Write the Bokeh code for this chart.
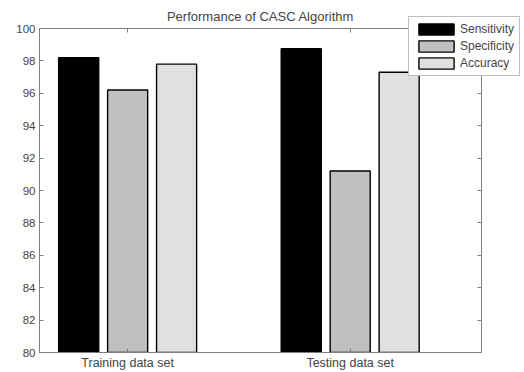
from bokeh.plotting import figure
from bokeh.models import (ColumnDataSource, LinearAxis, FixedTicker, Legend, LegendItem, Range1d)
from bokeh.embed import file_html
from bokeh.resources import INLINE

categories = ["Training data set", "Testing data set"]
series_names = ["Sensitivity", "Specificity", "Accuracy"]
sensitivity = [98.2, 98.75]
specificity = [96.2, 91.2]
accuracy = [97.8, 97.3]
series_colors = ["#000000", "#c0c0c0", "#e0e0e0"]
y_ticks = [80, 82, 84, 86, 88, 90, 92, 94, 96, 98, 100]

xpos = [1, 2]
offsets = [-0.22, 0.0, 0.22]
bar_w = 0.18

FONT = "Liberation Sans"
AX = "#808080"
TXT = "#444444"

p = figure(frame_width=442, frame_height=324, output_backend="svg",
           toolbar_location=None, x_range=Range1d(0.604, 2.59),
           y_range=Range1d(80, 100), x_axis_location=None, y_axis_location=None,
           min_border_left=39, min_border_right=35, min_border_top=28,
           min_border_bottom=12)
p.grid.visible = False
p.outline_line_color = AX
p.background_fill_color = "white"
p.border_fill_color = "white"

p.title.text = "Performance of CASC Algorithm"
p.title.align = "center"
p.title.text_font = FONT
p.title.text_font_size = "13px"
p.title.text_font_style = "normal"
p.title.text_color = TXT
p.title.standoff = 10

values = [sensitivity, specificity, accuracy]
renderers = []
for name, vals, col, off in zip(series_names, values, series_colors, offsets):
    src = ColumnDataSource(dict(x=[x + off for x in xpos], top=vals))
    r = p.vbar(x="x", top="top", bottom=80, width=bar_w, source=src,
               fill_color=col, line_color="black", line_width=1.4)
    renderers.append((name, r))

def style_axis(ax, labels=True):
    ax.axis_line_color = AX
    ax.major_tick_line_color = AX
    ax.major_tick_in = 4
    ax.major_tick_out = 0
    ax.minor_tick_line_color = None
    ax.major_label_text_font = FONT
    ax.major_label_text_font_size = "11.5px"
    ax.major_label_text_color = TXT
    ax.major_label_standoff = 4
    if not labels:
        ax.major_label_text_font_size = "0px"
        ax.major_label_text_color = None
        ax.major_label_standoff = 0

yl = LinearAxis(ticker=FixedTicker(ticks=y_ticks))
style_axis(yl)
p.add_layout(yl, "left")
yr = LinearAxis(ticker=FixedTicker(ticks=y_ticks))
style_axis(yr, labels=False)
p.add_layout(yr, "right")

xb = LinearAxis(ticker=FixedTicker(ticks=xpos),
                major_label_overrides={x: c for x, c in zip(xpos, categories)})
style_axis(xb)
xb.major_label_text_font_size = "12.5px"
xb.major_label_standoff = 3
p.add_layout(xb, "below")
xt = LinearAxis(ticker=FixedTicker(ticks=xpos))
style_axis(xt, labels=False)
p.add_layout(xt, "above")

legend = Legend(items=[LegendItem(label=n, renderers=[r]) for n, r in renderers],
                location=(-250, 276), glyph_width=44, glyph_height=14,
                label_height=14, label_standoff=2, spacing=3, padding=5,
                margin=-51, border_line_color=AX, background_fill_alpha=1.0,
                label_text_font=FONT, label_text_font_size="12px",
                label_text_color=TXT)
p.add_layout(legend, "right")

open("out.html", "w").write(file_html(p, INLINE))
